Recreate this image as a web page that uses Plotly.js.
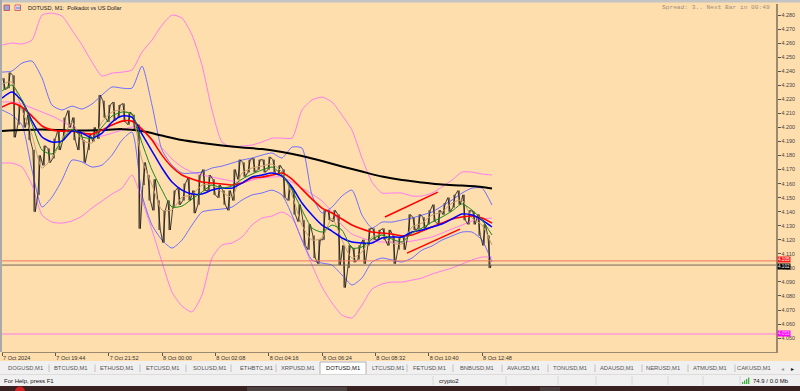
<!DOCTYPE html>
<html><head><meta charset="utf-8">
<script src="https://cdn.plot.ly/plotly-3.0.1.min.js"></script>
<style>html,body{margin:0;padding:0;background:#FFDEAD;overflow:hidden}#chart{width:800px;height:391px}</style>
</head><body><div id="chart"></div>
<script>
// ---------- DATA ----------
const chartTitle = "DOTUSD, M1:  Polkadot vs US Dollar";
const spreadText = "Spread: 3.. Next Bar in 00:49";
const barMinutes = 12; // one drawn bar = 12 minutes of M1 data
const priceHigh = [4.235,4.239,4.237,4.216,4.214,4.209,4.184,4.180,4.187,4.185,
4.192,4.198,4.207,4.212,4.207,4.198,4.191,4.195,4.200,4.223,
4.219,4.216,4.218,4.216,4.217,4.211,4.209,4.202,4.175,4.166,
4.163,4.148,4.141,4.148,4.155,4.157,4.160,4.164,4.155,4.166,
4.170,4.166,4.163,4.159,4.155,4.155,4.170,4.177,4.175,4.177,
4.178,4.177,4.177,4.179,4.177,4.173,4.170,4.159,4.155,4.145,
4.134,4.131,4.123,4.120,4.141,4.141,4.141,4.138,4.116,4.116,
4.114,4.116,4.120,4.128,4.128,4.127,4.128,4.127,4.123,4.122,
4.123,4.138,4.136,4.138,4.136,4.141,4.145,4.141,4.146,4.150,
4.152,4.155,4.152,4.141,4.140,4.138,4.131,4.123];
const priceLow = [4.227,4.228,4.193,4.202,4.200,4.191,4.140,4.152,4.173,4.175,
4.178,4.184,4.191,4.200,4.191,4.184,4.175,4.184,4.190,4.192,
4.207,4.204,4.205,4.207,4.204,4.202,4.198,4.128,4.159,4.148,
4.141,4.127,4.118,4.127,4.143,4.145,4.148,4.148,4.139,4.145,
4.155,4.155,4.152,4.150,4.145,4.141,4.148,4.163,4.165,4.168,
4.168,4.170,4.168,4.170,4.168,4.166,4.150,4.148,4.138,4.133,
4.116,4.113,4.107,4.103,4.120,4.134,4.133,4.102,4.086,4.100,
4.104,4.106,4.103,4.116,4.120,4.120,4.120,4.116,4.103,4.113,
4.113,4.123,4.127,4.128,4.128,4.131,4.133,4.131,4.138,4.140,
4.143,4.145,4.134,4.131,4.131,4.123,4.116,4.100];
const lastBid = 4.102;
const lastAsk = 4.105;
const levelLine = 4.053;

const slowMaStep = 48;
const maSlow = [4.1974,4.1981,4.1985,4.1981,4.1978,4.1981,4.1988,4.1974,4.1942,4.1910,
4.1889,4.1871,4.1857,4.1846,4.1825,4.1796,4.1761,4.1722,4.1686,4.1650,
4.1625,4.1608,4.1593,4.1586,4.1576,4.1565];
const slowMaLastMinute = 1176;

const indStep = 24;
const maRed = [4.2145,4.2174,4.2145,4.2081,4.2010,4.1981,4.1974,4.1974,4.1960,4.1953,
4.1981,4.2017,4.2045,4.2045,4.1988,4.1910,4.1803,4.1718,4.1661,4.1632,
4.1611,4.1604,4.1597,4.1590,4.1604,4.1640,4.1647,4.1661,4.1675,4.1632,
4.1561,4.1490,4.1426,4.1391,4.1348,4.1305,4.1277,4.1255,4.1248,4.1241,
4.1227,4.1234,4.1262,4.1291,4.1319,4.1348,4.1362,4.1369,4.1355,4.1319];
const maBlue = [4.2209,4.2252,4.2188,4.2045,4.1932,4.1896,4.1903,4.1974,4.1960,4.1924,
4.1960,4.2038,4.2081,4.2074,4.1953,4.1832,4.1711,4.1611,4.1554,4.1526,
4.1526,4.1554,4.1568,4.1568,4.1604,4.1647,4.1661,4.1675,4.1654,4.1576,
4.1462,4.1376,4.1305,4.1262,4.1213,4.1184,4.1177,4.1177,4.1213,4.1220,
4.1220,4.1255,4.1269,4.1291,4.1312,4.1348,4.1383,4.1376,4.1341,4.1291];
const maGreen = [4.2259,4.2302,4.2195,4.2024,4.1839,4.1811,4.1910,4.1988,4.1932,4.1924,
4.2003,4.2081,4.2110,4.2095,4.1889,4.1697,4.1554,4.1433,4.1440,4.1490,
4.1540,4.1590,4.1568,4.1583,4.1632,4.1668,4.1697,4.1718,4.1661,4.1554,
4.1412,4.1284,4.1255,4.1305,4.1269,4.1141,4.1149,4.1205,4.1234,4.1205,
4.1184,4.1248,4.1284,4.1326,4.1362,4.1405,4.1455,4.1412,4.1341,4.1234];
const maTan = [4.2309,4.2323,4.2124,4.1946,4.1711,4.1782,4.1910,4.2038,4.1910,4.1889,
4.2038,4.2110,4.2124,4.2088,4.1768,4.1590,4.1412,4.1412,4.1504,4.1519,
4.1590,4.1590,4.1540,4.1504,4.1675,4.1711,4.1725,4.1739,4.1682,4.1519,
4.1305,4.1198,4.1213,4.1355,4.1198,4.1070,4.1113,4.1220,4.1234,4.1177,
4.1170,4.1291,4.1319,4.1376,4.1398,4.1462,4.1483,4.1355,4.1305,4.1163];
const bandBlueUpper = [4.2394,4.2402,4.2458,4.2473,4.2352,4.2159,4.2124,4.2152,4.2131,4.2167,
4.2231,4.2288,4.2280,4.2280,4.2437,4.2159,4.1839,4.1732,4.1675,4.1675,
4.1682,4.1711,4.1725,4.1746,4.1768,4.1782,4.1803,4.1818,4.1782,4.1860,
4.1853,4.1519,4.1391,4.1433,4.1512,4.1554,4.1376,4.1284,4.1326,4.1326,
4.1341,4.1355,4.1376,4.1398,4.1440,4.1483,4.1533,4.1568,4.1568,4.1447];
const bandBlueLower = [4.2124,4.2088,4.2017,4.1697,4.1433,4.1504,4.1625,4.1768,4.1754,4.1718,
4.1732,4.1803,4.1910,4.1967,4.1519,4.1305,4.1198,4.1141,4.1198,4.1305,
4.1398,4.1412,4.1419,4.1433,4.1483,4.1519,4.1533,4.1554,4.1519,4.1376,
4.1198,4.1056,4.1034,4.1020,4.0949,4.0878,4.0928,4.1042,4.1070,4.1056,
4.1042,4.1070,4.1127,4.1156,4.1198,4.1227,4.1255,4.1255,4.1198,4.1042];
const bandPinkUpper = [4.2587,4.2601,4.2594,4.2622,4.2800,4.2814,4.2793,4.2693,4.2587,4.2466,
4.2366,4.2387,4.2394,4.2409,4.2537,4.2622,4.2729,4.2800,4.2779,4.2658,
4.2444,4.2124,4.1896,4.1860,4.1867,4.1875,4.1896,4.1924,4.1924,4.1924,
4.2124,4.2195,4.2216,4.2181,4.2088,4.1981,4.1782,4.1611,4.1533,4.1533,
4.1533,4.1512,4.1512,4.1533,4.1576,4.1625,4.1682,4.1682,4.1668,4.1661];
const bandPinkMiddle = [4.2181,4.2181,4.2167,4.2138,4.2110,4.2081,4.2045,4.2003,4.1960,4.1946,
4.1939,4.1960,4.1981,4.2003,4.1981,4.1917,4.1853,4.1775,4.1718,4.1682,
4.1661,4.1647,4.1632,4.1618,4.1604,4.1625,4.1640,4.1647,4.1647,4.1611,
4.1568,4.1526,4.1476,4.1398,4.1305,4.1241,4.1213,4.1191,4.1184,4.1184,
4.1184,4.1191,4.1205,4.1220,4.1248,4.1277,4.1305,4.1334,4.1348,4.1355];
const bandPinkLower = [4.1746,4.1746,4.1718,4.1590,4.1376,4.1326,4.1319,4.1334,4.1369,4.1426,
4.1476,4.1526,4.1568,4.1661,4.1483,4.1269,4.1042,4.0828,4.0728,4.0686,
4.0807,4.1070,4.1163,4.1177,4.1220,4.1305,4.1355,4.1369,4.1398,4.1355,
4.1198,4.1020,4.0864,4.0750,4.0664,4.0643,4.0735,4.0849,4.0885,4.0899,
4.0899,4.0913,4.0928,4.0956,4.0978,4.0999,4.1027,4.1056,4.1077,4.1077];

// user-drawn trend lines (minute, price)
const trendStartMin = [919, 972];
const trendStartPrice = [4.1362, 4.1105];
const trendEndMin = [1046, 1099];
const trendEndPrice = [4.1539, 4.1276];

const timeTickMinutes = [0,128,256,384,512,640,768,896,1024,1152];
const timeTickLabels = ["7 Oct 2024","7 Oct 19:44","7 Oct 21:52","8 Oct 00:00","8 Oct 02:08","8 Oct 04:16","8 Oct 06:24","8 Oct 08:32","8 Oct 10:40","8 Oct 12:48"];

const tabNames = ["DOGUSD,M1","BTCUSD,M1","ETHUSD,M1","ETCUSD,M1","SOLUSD,M1","ETHBTC,M1","XRPUSD,M1","DOTUSD,M1","LTCUSD,M1","FETUSD,M1","BNBUSD,M1","AVAUSD,M1","TONUSD,M1","ADAUSD,M1","NERUSD,M1","ATMUSD,M1","CAKUSD,M1"];
const activeTab = "DOTUSD,M1";
const statusLeft = "For Help, press F1";
const statusProfile = "crypto2";
const statusTraffic = "74.9 / 0.0 Mb";

// ---------- LAYOUT HELPERS ----------
const L = 2, R = 776, T = 4, B = 352;
const px = x => (x - L) / (R - L);
const py = y => (B - y) / (B - T);
const tabCenters = [25,71,117,163,210,256,298,343,388,430,477,523,570,617,663,710,754];
const tabSeps = [49,95,140,186,231,276,407,453,502,548,595,642,688,735];
const statusSeps = [433,506,558,596,632,668,703,740];

// ---------- TRACES ----------
const indT = bandPinkUpper.map((_, k) => k * indStep);
const slowT = maSlow.map((_, k) => k < maSlow.length - 1 ? k * slowMaStep : slowMaLastMinute);

// price path: each bar goes from the extreme nearest the previous bar to the other one
const zx = [], zy = [], oT = [], oO = [], oC = [];
let prev = priceHigh[0];
priceHigh.forEach((h, i) => {
  const l = priceLow[i];
  const t = i * barMinutes;
  const first = Math.abs(prev - h) < Math.abs(prev - l) ? h : l;
  const second = first === h ? l : h;
  zx.push(t + 2, t + 8); zy.push(first, second);
  oT.push(t + 5); oO.push(first); oC.push(second);
  prev = second;
});
zx.push(priceHigh.length * barMinutes - 2); zy.push(lastBid);

function line(x, y, color, width) {
  return {x, y, type: 'scatter', mode: 'lines', line: {color, width, shape: 'spline', smoothing: 0.6}, hoverinfo: 'skip', showlegend: false};
}
const traces = [
  line(indT, bandPinkUpper, '#ff7cf0', 1),
  line(indT, bandPinkMiddle, '#ff7cf0', 1),
  line(indT, bandPinkLower, '#ff7cf0', 1),
  line(indT, bandBlueUpper, '#6f6fff', 1),
  line(indT, bandBlueLower, '#6f6fff', 1),
  line(slowT, maSlow, '#000000', 2),
  {x: oT, open: oO, high: priceHigh, low: priceLow, close: oC, type: 'ohlc', tickwidth: 0.04,
    increasing: {line: {color: '#000000', width: 0.9}}, decreasing: {line: {color: '#000000', width: 0.9}},
    hoverinfo: 'skip', showlegend: false},
  {x: zx, y: zy, type: 'scatter', mode: 'lines', line: {color: '#151515', width: 0.8}, hoverinfo: 'skip', showlegend: false},
  line(indT, maTan, '#c8a070', 1),
  line(indT, maRed, '#ff0000', 1.6),
  line(indT, maBlue, '#0000ff', 1.5),
  line(indT, maGreen, '#1a8a1a', 1),
];
trendStartMin.forEach((t0, i) => {
  traces.push({x: [t0, trendEndMin[i]], y: [trendStartPrice[i], trendEndPrice[i]], type: 'scatter', mode: 'lines',
    line: {color: '#ff0000', width: 1.5}, hoverinfo: 'skip', showlegend: false});
});

// ---------- SHAPES & ANNOTATIONS ----------
const shapes = [];
const ann = [];
const rectPx = (x0, y0, x1, y1, fill, lineColor, lw) => shapes.push({type: 'rect', xref: 'paper', yref: 'paper',
  x0: px(x0), x1: px(x1), y0: py(y1), y1: py(y0), fillcolor: fill, line: {color: lineColor || fill, width: lw || 0}, layer: 'above'});
const linePx = (x0, y0, x1, y1, color, w) => shapes.push({type: 'line', xref: 'paper', yref: 'paper',
  x0: px(x0), x1: px(x1), y0: py(y0), y1: py(y1), line: {color, width: w || 1}, layer: 'above'});
const textPx = (x, y, text, opts) => ann.push(Object.assign({xref: 'paper', yref: 'paper', x: px(x), y: py(y), text,
  showarrow: false, xanchor: 'left', yanchor: 'middle', font: {family: 'Liberation Sans, Arial', size: 6, color: '#333'}}, opts || {}));

// horizontal price lines
shapes.push({type: 'line', xref: 'paper', yref: 'y', x0: 0, x1: 1, y0: lastAsk, y1: lastAsk, line: {color: '#f2765f', width: 1}});
shapes.push({type: 'line', xref: 'paper', yref: 'y', x0: 0, x1: 1, y0: lastBid, y1: lastBid, line: {color: '#75695c', width: 1}});
shapes.push({type: 'line', xref: 'paper', yref: 'y', x0: 0, x1: 1, y0: levelLine, y1: levelLine, line: {color: '#ff9ad6', width: 1.5}});

// window chrome
rectPx(0, 0, 800, 2.5, '#c4c4c4');
rectPx(0, 0, 2, B, '#a9a9a9');
rectPx(0, 361, 800, 374.5, '#f0f0f0');
rectPx(320, 362, 366, 374.5, '#ffffff', '#a0a0a0', 0.8);
tabSeps.forEach(x => linePx(x, 364.5, x, 372, '#b4b4b4', 0.8));
rectPx(0, 374.5, 800, 386, '#f0f0f0');
linePx(0, 374.5, 800, 374.5, '#d8d8d8', 0.8);
statusSeps.forEach(x => linePx(x, 376, x, 385, '#d0d0d0', 0.8));
rectPx(0, 386, 800, 391, '#3a2121');
rectPx(247, 387, 347, 391, '#4d4040');
rectPx(540, 387, 560, 391, '#4a3c3c');
shapes.push({type: 'circle', xref: 'paper', yref: 'paper', x0: px(15), x1: px(25), y0: py(396), y1: py(386.5), fillcolor: '#d02020', line: {width: 0}, layer: 'above'});
// signal bars
[[742,382],[744,380.5],[746,379],[748,377.5]].forEach(([x, y]) => rectPx(x, y, x + 1.3, 384, '#3fae3f'));
// chart icons
rectPx(4, 5, 9.5, 10.5, '#8fa9e0', '#d04040', 0.8);
rectPx(15, 5, 20.5, 10.5, '#ffffff', '#d04040', 0.8);
linePx(17, 6.5, 17, 9.5, '#3050c0', 1);
linePx(19, 6.5, 19, 9.5, '#3050c0', 1);

textPx(26, 7.8, chartTitle, {font: {family: 'Liberation Sans, Arial', size: 5.6, color: '#202020'}});
textPx(772, 7.5, spreadText, {xanchor: 'right', font: {family: 'Liberation Mono, Courier New', size: 6.2, color: '#9a8f80'}});

tabNames.forEach((name, i) => textPx(tabCenters[i], 368.5, name, {xanchor: 'center',
  font: {family: 'Liberation Sans, Arial', size: 5.8, color: name === activeTab ? '#111' : '#555'}}));
textPx(782, 368.5, '◂', {xanchor: 'center', font: {family: 'DejaVu Sans', size: 6, color: '#999'}});
textPx(792, 368.5, '▸', {xanchor: 'center', font: {family: 'DejaVu Sans', size: 6, color: '#111'}});
textPx(2, 380.5, statusLeft, {font: {family: 'Liberation Sans, Arial', size: 6, color: '#111'}});
textPx(437, 380.5, statusProfile, {font: {family: 'Liberation Sans, Arial', size: 6, color: '#111'}});
textPx(751, 380.5, statusTraffic, {font: {family: 'Liberation Sans, Arial', size: 6, color: '#111'}});

// price labels on right scale
const priceTag = (p, bg, fg, ys) => ann.push({xref: 'paper', yref: 'y', x: 1, y: p, xanchor: 'left', yanchor: 'middle', xshift: 1, yshift: ys || 0,
  text: p.toFixed(3), showarrow: false, bgcolor: bg, borderpad: 0, font: {family: 'Liberation Sans, Arial', size: 4.6, color: fg}});
priceTag(levelLine, '#ff00ff', '#ffd0ff', 0);
priceTag(lastAsk, '#ff1a1a', '#ffffff', 1);
priceTag(lastBid, '#000000', '#ffffff', -1.5);

const axisColor = '#9a8a70';
const layout = {
  width: 800, height: 391,
  margin: {l: L, r: 800 - R, t: T, b: 391 - B, pad: 0},
  paper_bgcolor: '#FFDEAD', plot_bgcolor: '#FFDEAD',
  showlegend: false,
  xaxis: {range: [0, (R - L) * 2.4], showgrid: false, zeroline: false, showline: true, linecolor: axisColor, linewidth: 1,
    tickvals: timeTickMinutes, ticktext: timeTickLabels, ticks: 'outside', ticklen: 3, tickcolor: '#555',
    ticklabelposition: 'outside right', tickfont: {family: 'Liberation Sans, Arial', size: 5.6, color: '#333'},
    rangeslider: {visible: false}, fixedrange: true},
  yaxis: {range: [4.0401, 4.2879], side: 'right', showgrid: false, zeroline: false, showline: true, linecolor: axisColor, linewidth: 1.5,
    tick0: 4.05, dtick: 0.01, tickformat: '.3f', ticks: 'outside', ticklen: 3, tickcolor: '#555',
    tickfont: {family: 'Liberation Sans, Arial', size: 5.4, color: '#444'}, fixedrange: true},
  shapes, annotations: ann
};
Plotly.newPlot('chart', traces, layout, {displayModeBar: false, staticPlot: true});
</script></body></html>
